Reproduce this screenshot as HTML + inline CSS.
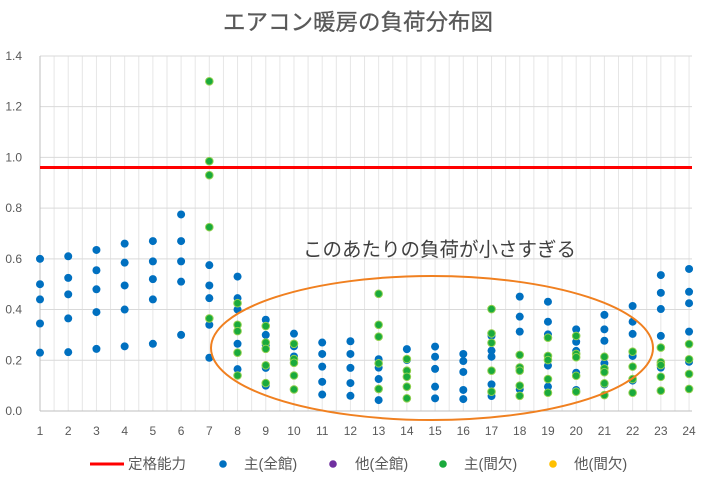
<!DOCTYPE html>
<html><head><meta charset="utf-8"><style>
html,body{margin:0;padding:0;background:#fff;}
svg{display:block;font-family:"Liberation Sans","Noto Sans CJK JP",sans-serif;}
</style></head><body>
<svg id="c" width="716" height="488" viewBox="0 0 716 488" xmlns="http://www.w3.org/2000/svg">
<rect width="716" height="488" fill="#fff"/>
<g id="grid"></g>
<text x="358" y="30" text-anchor="middle" font-size="22.5" fill="#595959" stroke="#595959" stroke-width="0.3">エアコン暖房の負荷分布図</text>
<line x1="40" y1="167.5" x2="692" y2="167.5" stroke="#ff0000" stroke-width="3"/>
<g id="dots"></g>
<ellipse cx="432" cy="348" rx="221" ry="72" fill="none" stroke="#f08020" stroke-width="2"/>
<text x="303" y="256" font-size="19.5" fill="#404040">このあたりの負荷が小さすぎる</text>
<g font-size="14.5" fill="#595959">
<line x1="90" y1="464" x2="124" y2="464" stroke="#ff0000" stroke-width="3"/>
<text x="128" y="469">定格能力</text>
<circle cx="223" cy="464" r="3.8" fill="#0070c0"/><text x="244" y="469">主(全館)</text>
<circle cx="333" cy="464" r="3.8" fill="#7030a0"/><text x="355" y="469">他(全館)</text>
<circle cx="443" cy="464" r="3.8" fill="#1aaa3c"/><text x="464" y="469">主(間欠)</text>
<circle cx="553" cy="464" r="3.8" fill="#ffc000"/><text x="574" y="469">他(間欠)</text>
</g>
</svg>
<script>
var NS="http://www.w3.org/2000/svg";
function el(p,t,a,txt){var e=document.createElementNS(NS,t);for(var k in a)e.setAttribute(k,a[k]);if(txt!=null)e.textContent=txt;p.appendChild(e);return e;}
var g=document.getElementById('grid'),d=document.getElementById('dots');
function X(i){return 40+(i-1)*28.22;}
function Y(v){return 411-v*253.6;}
for(var h=1;h<=24.01;h+=0.5){el(g,'line',{x1:X(h),x2:X(h),y1:56,y2:411,stroke:'#e6e6e6','stroke-width':1});}
for(var k=0;k<=7;k++){var v=k*0.2;el(g,'line',{x1:40,x2:692,y1:Y(v),y2:Y(v),stroke:'#d9d9d9','stroke-width':1});
el(g,'text',{x:22,y:Y(v)+4,'text-anchor':'end','font-size':12,fill:'#595959'},v.toFixed(1));}
el(g,'line',{x1:40,x2:40,y1:56,y2:411,stroke:'#bfbfbf','stroke-width':1});
el(g,'line',{x1:40,x2:692,y1:411,y2:411,stroke:'#bfbfbf','stroke-width':1});
for(var i=1;i<=24;i++)el(g,'text',{x:X(i),y:435,'text-anchor':'middle','font-size':12,fill:'#595959'},String(i));
var B={1:[.60,.50,.44,.345,.23],2:[.61,.525,.46,.365,.232],3:[.635,.555,.48,.39,.245],4:[.66,.585,.495,.40,.255],5:[.67,.59,.52,.44,.265],6:[.775,.67,.59,.51,.30],7:[.575,.495,.445,.34,.21],8:[.53,.445,.40,.265,.165],9:[.36,.30,.26,.17,.10],10:[.305,.255,.215,.14,.085],11:[.27,.225,.175,.115,.065],12:[.275,.225,.17,.11,.06],13:[.204,.171,.126,.086,.043],14:[.244,.201,.159,.096,.05],15:[.254,.214,.166,.096,.05],16:[.225,.197,.154,.083,.047],17:[.296,.238,.214,.105,.059],18:[.451,.372,.313,.168,.086],19:[.431,.352,.302,.179,.096],20:[.322,.273,.237,.151,.083],21:[.379,.322,.277,.188,.105],22:[.414,.352,.304,.217,.12],23:[.536,.466,.402,.296,.171],24:[.56,.47,.425,.313,.194]};
var G={7:[1.30,.985,.93,.725,.365],8:[.425,.34,.315,.23,.14],9:[.335,.27,.245,.18,.11],10:[.265,.205,.19,.14,.085],13:[.462,.34,.293,.188,.087],14:[.205,.159,.135,.096,.05],17:[.402,.306,.269,.159,.076],18:[.221,.172,.159,.1,.06],19:[.289,.217,.201,.126,.072],20:[.296,.225,.212,.139,.076],21:[.214,.168,.153,.109,.063],22:[.234,.175,.126,.072],23:[.25,.192,.181,.135,.08],24:[.264,.204,.146,.087]};
for(var k in B)B[k].forEach(function(v){el(d,'circle',{cx:X(+k),cy:Y(v),r:4,fill:'#0070c0'});});
for(var k in G)G[k].forEach(function(v){el(d,'circle',{cx:X(+k),cy:Y(v),r:3.8,fill:'#1aaa3c',stroke:'#92d050','stroke-width':1});});
</script>
</body></html>
